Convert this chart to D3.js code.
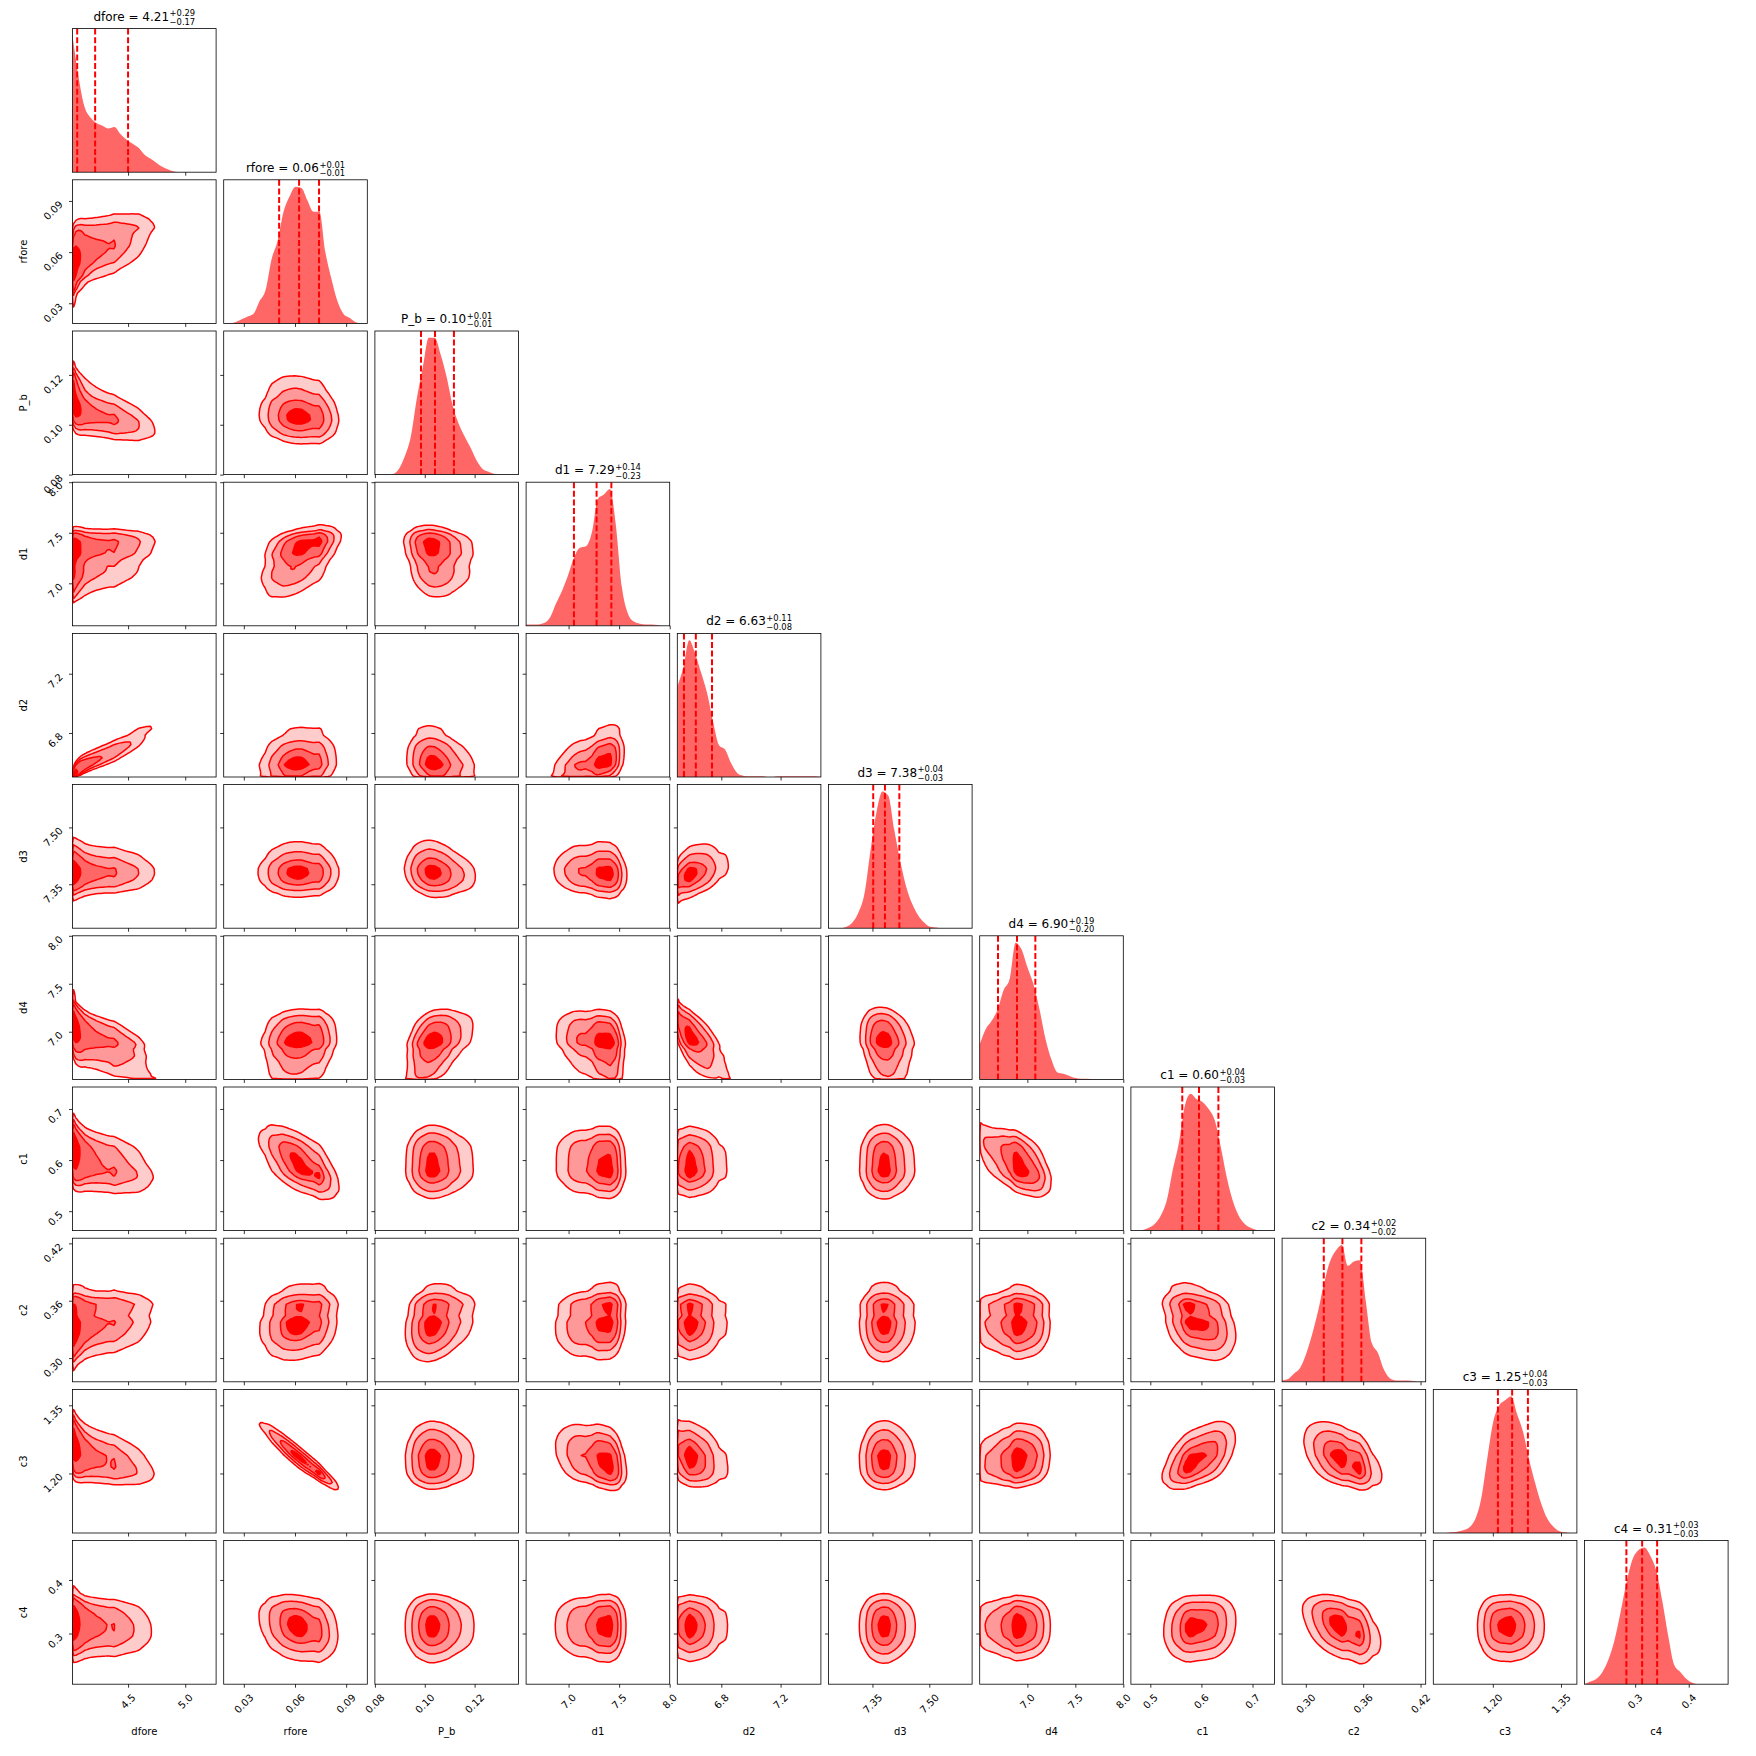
<!DOCTYPE html>
<html><head><meta charset="utf-8">
<script src="https://cdn.jsdelivr.net/npm/d3@7"></script>
<style>body{margin:0;background:#fff} text{font-family:"DejaVu Sans",sans-serif;fill:#000}</style>
</head><body><svg id="c" width="1756" height="1756" xmlns="http://www.w3.org/2000/svg"></svg>
<script>
// ---------------- data ----------------
const names = ["dfore","rfore","P_b","d1","d2","d3","d4","c1","c2","c3","c4"];
const rangeLo = [4.014, 0.0182, 0.08, 6.58, 6.503, 7.234, 6.503, 0.462, 0.2752, 1.069, 0.2054];
const rangeHi = [5.27, 0.1024, 0.1376, 8.0, 7.472, 7.613, 8.0, 0.743, 0.4254, 1.385, 0.4735];

const titleMed   = ["4.21","0.06","0.10","7.29","6.63","7.38","6.90","0.60","0.34","1.25","0.31"];
const titlePlus  = ["0.29","0.01","0.01","0.14","0.11","0.04","0.19","0.04","0.02","0.04","0.03"];
const titleMinus = ["0.17","0.01","0.01","0.23","0.08","0.03","0.20","0.03","0.02","0.03","0.03"];

const q16 = [4.055, 0.0507, 0.0985, 7.053, 6.548, 7.352, 6.694, 0.5625, 0.3188, 1.2112, 0.2836];
const q50 = [4.212, 0.0624, 0.1041, 7.277, 6.628, 7.383, 6.892, 0.5953, 0.3383, 1.2425, 0.3130];
const q84 = [4.500, 0.0741, 0.1117, 7.423, 6.737, 7.421, 7.083, 0.6332, 0.3581, 1.2772, 0.3410];

const tickVals = [
  [4.5, 5.0], [0.03, 0.06, 0.09], [0.08, 0.10, 0.12], [7.0, 7.5, 8.0], [6.8, 7.2],
  [7.35, 7.50], [7.0, 7.5, 8.0], [0.5, 0.6, 0.7], [0.30, 0.36, 0.42], [1.20, 1.35], [0.3, 0.4]
];
const tickLabels = [
  ["4.5","5.0"], ["0.03","0.06","0.09"], ["0.08","0.10","0.12"], ["7.0","7.5","8.0"], ["6.8","7.2"],
  ["7.35","7.50"], ["7.0","7.5","8.0"], ["0.5","0.6","0.7"], ["0.30","0.36","0.42"], ["1.20","1.35"], ["0.3","0.4"]
];

// 1D marginal histograms: relative heights at 25 evenly spaced points across each axis range
const histDfore = [100,70,48,40,36,34,32,33,28,24,21,18,13,10,7,4,2,0.5,0,0,0,0,0,0,0];
const histRfore = [0,0,1,3,5,7,16,24,46,59,80,91,98,97,88,80,80,51,32,16,7,4,1,0,0];
const histPb    = [0,0,0,0.5,4,13,27,54,76,97,97,85,69,49,36,27,19,10,4,2,0.5,0,0,0,0];
const histD1    = [1,1,1,2,6,16,25,36,49,56,57,67,91,94,98,72,28,9,3,1.5,1,1,0.5,0,0];
const histD2    = [66,80,100,90,76,61,40,23,20,10,3,1,0.5,0.5,0.5,0,0,0.5,0.5,0.5,0.5,0.5,0.5,0.5,0];
const histD3    = [0,0,0,1,4,11,24,54,81,96,93,69,47,29,17,9,4,1,0.5,0,0,0,0,0,0];
const histD4    = [25,36,42,50,64,72,98,93,80,68,50,29,14,5,4,2.5,1,0.5,0.5,0,0,0,0,0,0];
const histC1    = [0,0,0.5,2,5,11,22,44,63,90,99,95,93,88,80,61,39,22,11,5,2,0.5,0,0,0];
const histC2    = [1,2,6,10,20,34,51,71,87,95,99,84,87,88,58,28,21,9,2.5,1,1,1,0.5,0,0];
const histC3    = [0,0,0,0.5,1,2,4,10,25,54,81,93,97,100,87,74,54,37,22,11,5,1.5,0.5,0,0];
const histC4    = [0,2,4,9,18,32,52,74,91,98,100,94,83,61,35,14,9,4,1,0,0,0,0,0,0];
const hists = [histDfore,histRfore,histPb,histD1,histD2,histD3,histD4,histC1,histC2,histC3,histC4];

const corrRfore = [0.45];
const corrPb    = [-0.5, -0.1];
const corrD1    = [0.15, 0.45, -0.15];
const corrD2    = [0.92, 0.1, -0.15, 0.3];
const corrD3    = [0.0, 0.0, -0.15, -0.1, 0.35];
const corrD4    = [-0.5, 0.1, 0.35, -0.2, -0.6, -0.15];
const corrC1    = [-0.35, -0.6, 0.0, -0.05, 0.0, 0.0, -0.5];
const corrC2    = [0.15, 0.15, 0.2, 0.1, 0.0, 0.0, 0.0, -0.3];
const corrC3    = [-0.4, -0.95, 0.0, -0.3, -0.2, 0.0, 0.1, 0.5, -0.45];
const corrC4    = [-0.1, -0.2, 0.0, 0.0, 0.0, 0.0, 0.0, 0.1, -0.4, 0.0];
const corr = [[], corrRfore, corrPb, corrD1, corrD2, corrD3, corrD4, corrC1, corrC2, corrC3, corrC4];

// ---------------- layout ----------------
const K = names.length;
const left0 = 72.5, top0 = 28.6, step = 151.2, size = 143.6;
const RED = "#ff0000";
const fillCols = ["#ffcccc","#ff9999","#ff6666","#ff0000"];
const massLevels = [0.1175, 0.3935, 0.6753, 0.8647];

const svg = d3.select("#c");
const defs = svg.append("defs");
defs.append("clipPath").attr("id","pclip").append("rect").attr("x",0).attr("y",0).attr("width",size).attr("height",size);

const xs = names.map((_,k)=> d3.scaleLinear().domain([rangeLo[k], rangeHi[k]]).range([0,size]));
const ys = names.map((_,k)=> d3.scaleLinear().domain([rangeLo[k], rangeHi[k]]).range([size,0]));

function invNorm(p){
  const a=[-3.969683028665376e+01,2.209460984245205e+02,-2.759285104469687e+02,1.383577518672690e+02,-3.066479806614716e+01,2.506628277459239e+00];
  const b=[-5.447609879822406e+01,1.615858368580409e+02,-1.556989798598866e+02,6.680131188771972e+01,-1.328068155288572e+01];
  const c=[-7.784894002430293e-03,-3.223964580411365e-01,-2.400758277161838e+00,-2.549732539343734e+00,4.374664141464968e+00,2.938163982698783e+00];
  const d=[7.784695709041462e-03,3.224671290700398e-01,2.445134137142996e+00,3.754408661907416e+00];
  const pl=0.02425, ph=1-pl; let q,r;
  if(p<pl){q=Math.sqrt(-2*Math.log(p));return (((((c[0]*q+c[1])*q+c[2])*q+c[3])*q+c[4])*q+c[5])/((((d[0]*q+d[1])*q+d[2])*q+d[3])*q+1);}
  if(p<=ph){q=p-0.5;r=q*q;return (((((a[0]*r+a[1])*r+a[2])*r+a[3])*r+a[4])*r+a[5])*q/(((((b[0]*r+b[1])*r+b[2])*r+b[3])*r+b[4])*r+1);}
  q=Math.sqrt(-2*Math.log(1-p));return -(((((c[0]*q+c[1])*q+c[2])*q+c[3])*q+c[4])*q+c[5])/((((d[0]*q+d[1])*q+d[2])*q+d[3])*q+1);
}

// marginals (pdf, cdf) from histogram arrays
const marg = hists.map((h,k)=>{
  const lo=rangeLo[k], hi=rangeHi[k], n=h.length;
  const pts = h.map((v,i)=> lo + i*(hi-lo)/(n-1));
  const f = d3.scaleLinear().domain(pts).range(h);
  const pdf = x => (x<lo||x>hi) ? 0 : Math.max(0, f(x));
  const M=600, gx=[], gc=[]; let acc=0;
  for(let i=0;i<=M;i++){
    const x=lo+i*(hi-lo)/M;
    if(i>0) acc += 0.5*(pdf(x)+pdf(gx[i-1]))*(hi-lo)/M;
    gx.push(x); gc.push(acc);
  }
  const cdfS = d3.scaleLinear().domain(gx).range(gc.map(c=>c/acc)).clamp(true);
  return {pdf, cdf: x=>cdfS(x), pts};
});

const PAD=3, NC=64, N=NC+2*PAD;
function drawContours(g, i, j, rho){
  const mx=marg[i], my=marg[j];
  const dx=(rangeHi[i]-rangeLo[i])/NC, dy=(rangeHi[j]-rangeLo[j])/NC;
  const clampP = p => Math.min(1-1e-5, Math.max(1e-5, p));
  const fx=[], ax=[], fy=[], ay=[];
  for(let a=0;a<N;a++){
    const x = rangeLo[i] + (a-PAD+0.5)*dx; fx.push(mx.pdf(x)); ax.push(invNorm(clampP(mx.cdf(x))));
    const y = rangeLo[j] + (a-PAD+0.5)*dy; fy.push(my.pdf(y)); ay.push(invNorm(clampP(my.cdf(y))));
  }
  const r2 = 1-rho*rho, nrm = 1/Math.sqrt(r2);
  const values = new Float64Array(N*N);
  for(let b=0;b<N;b++) for(let a=0;a<N;a++){
    const u=ax[a], v=ay[b];
    values[a+b*N] = fx[a]*fy[b]*nrm*Math.exp(-(rho*rho*(u*u+v*v) - 2*rho*u*v)/(2*r2));
  }
  const sorted = Array.from(values).sort((p,q)=>q-p);
  const total = d3.sum(sorted); let cum=0;
  const cums = sorted.map(v=>(cum+=v)/total);
  const th = massLevels.map(m=>{ let idx=d3.bisectRight(cums,m)-1; if(idx<0) idx=0; return sorted[idx]; });
  const thAsc = th.slice().reverse();
  const conts = d3.contours().size([N,N]).thresholds(thAsc)(values);
  const proj = d3.geoTransform({point(x,y){
    this.stream.point(xs[i](rangeLo[i]+(x-PAD)*dx), ys[j](rangeLo[j]+(y-PAD)*dy));
  }});
  const path = d3.geoPath(proj);
  const cg = g.append("g").attr("clip-path","url(#pclip)");
  conts.forEach((c,k)=>{
    cg.append("path").attr("d", path(c)).attr("fill", fillCols[k]).attr("fill-rule","evenodd");
  });
  conts.forEach((c,k)=>{
    cg.append("path").attr("d", path(c)).attr("fill","none").attr("stroke",RED).attr("stroke-width",1.5).attr("stroke-linejoin","round");
  });
}

function drawHist(g, k){
  const h = hists[k], pts = marg[k].pts;
  const yh = d3.scaleLinear().domain([0, 1.05*d3.max(h)]).range([size,0]);
  const area = d3.area().x((d,i)=>xs[k](pts[i])).y0(size).y1(d=>yh(d)).curve(d3.curveMonotoneX);
  const cg = g.append("g").attr("clip-path","url(#pclip)");
  cg.append("path").attr("d", area(h)).attr("fill","#ff6666");
  [q16[k], q50[k], q84[k]].forEach(q=>{
    cg.append("line").attr("x1",xs[k](q)).attr("x2",xs[k](q)).attr("y1",0).attr("y2",size)
      .attr("stroke",RED).attr("stroke-width",2).attr("stroke-dasharray","6,2.6");
  });
}

const TF = 10; // tick label font size
function rotLabel(g, txt, placer){
  const t = g.append("text").attr("font-size",TF).attr("text-anchor","middle").attr("dy","0.36em").text(txt);
  const L = t.node().getComputedTextLength();
  const he = (L + 0.73*TF)/(2*Math.SQRT2);
  const [cx,cy] = placer(he);
  t.attr("transform",`translate(${cx},${cy}) rotate(-45)`);
}

for(let r=0;r<K;r++){
  for(let c=0;c<=r;c++){
    const px = left0 + c*step, py = top0 + r*step;
    const g = svg.append("g").attr("transform",`translate(${px},${py})`);
    if(r===c) drawHist(g, c); else drawContours(g, c, r, corr[r][c]);
    // spines
    g.append("rect").attr("x",0).attr("y",0).attr("width",size).attr("height",size)
      .attr("fill","none").attr("stroke","#000").attr("stroke-width",0.8);
    // x ticks
    const xa = d3.axisBottom(xs[c]).tickValues(tickVals[c]).tickSize(3.5).tickSizeOuter(0).tickFormat("");
    const xg = g.append("g").attr("transform",`translate(0,${size})`).call(xa);
    xg.select(".domain").remove();
    xg.selectAll(".tick line").attr("stroke","#000").attr("stroke-width",0.8);
    if(r!==c){
      const ya = d3.axisLeft(ys[r]).tickValues(tickVals[r]).tickSize(3.5).tickSizeOuter(0).tickFormat("");
      const yg = g.append("g").call(ya);
      yg.select(".domain").remove();
      yg.selectAll(".tick line").attr("stroke","#000").attr("stroke-width",0.8);
    }
    if(r===K-1){
      tickVals[c].forEach((v,ti)=> rotLabel(g, tickLabels[c][ti], he=>[xs[c](v), size+9+he]));
      g.append("text").attr("x",size/2).attr("y",size+51).attr("font-size",10).attr("text-anchor","middle").text(names[c]);
    }
    if(c===0 && r>0){
      tickVals[r].forEach((v,ti)=> rotLabel(g, tickLabels[r][ti], he=>[-9-he, ys[r](v)-1+he]));
      g.append("text").attr("transform",`translate(${27-left0},${size/2}) rotate(-90)`)
        .attr("font-size",10).attr("text-anchor","middle").text(names[r]);
    }
    if(r===c){
      // title: name = med^{+plus}_{-minus}
      const tg = g.append("g");
      const base = -8;
      const tm = tg.append("text").attr("font-size",12).attr("y",base).text(`${names[c]} = ${titleMed[c]}`);
      const ts = tg.append("text").attr("font-size",8.4).attr("y",base-4.2).text(`+${titlePlus[c]}`);
      const tb = tg.append("text").attr("font-size",8.4).attr("y",base+4.3).text(`\u2212${titleMinus[c]}`);
      const Lm = tm.node().getComputedTextLength();
      const Ls = ts.node().getComputedTextLength(), Lb = tb.node().getComputedTextLength();
      const total = Lm + 0.5 + Math.max(Ls,Lb);
      const sx = size/2 - total/2;
      tm.attr("x", sx); ts.attr("x", sx+Lm+0.5); tb.attr("x", sx+Lm+0.5);
    }
  }
}
</script></body></html>
